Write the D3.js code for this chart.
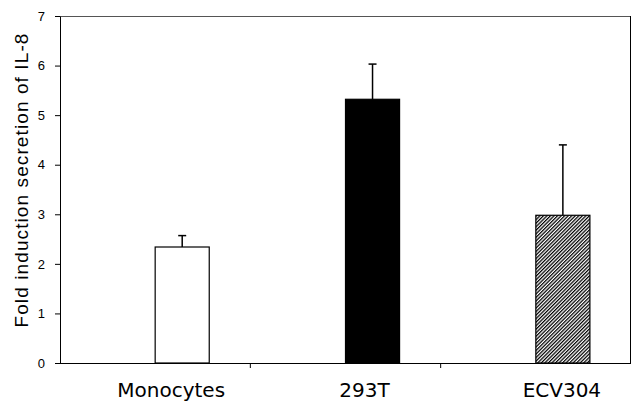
<!DOCTYPE html>
<html>
<head>
<meta charset="utf-8">
<script src="https://cdn.jsdelivr.net/npm/d3@7"></script>
<style>
  body { margin: 0; background: #fff; }
  svg { display: block; }
</style>
</head>
<body>
<svg id="chart" width="632" height="404"></svg>
<script>
// data
const categories = ["Monocytes", "293T", "ECV304"];
const values = [2.34, 5.32, 2.98];
const errors = [0.23, 0.71, 1.42];
const yTicks = [0, 1, 2, 3, 4, 5, 6, 7];
const yTitle = "Fold induction secretion of IL-8";

const margin = { top: 16, right: 1, bottom: 41, left: 60 };
const width = 632 - margin.left - margin.right;
const height = 404 - margin.top - margin.bottom;

const svg = d3.select("#chart");

// hatch fill for the third bar
const defs = svg.append("defs");
defs.append("pattern")
  .attr("id", "hatch")
  .attr("patternUnits", "userSpaceOnUse")
  .attr("width", 2.5)
  .attr("height", 2.5)
  .attr("patternTransform", "rotate(45)")
  .call(p => {
    p.append("rect").attr("width", 2.5).attr("height", 2.5).attr("fill", "#fff");
    p.append("rect").attr("width", 1.25).attr("height", 2.5).attr("fill", "#000");
  });

const fills = ["#fff", "#000", "url(#hatch)"];

const x = d3.scaleBand()
  .domain(categories)
  .range([0, width])
  .padding(0);

// Excel-like cluster: empty first slot, bar in second slot
const x1 = d3.scaleBand()
  .domain(["blank", "value"])
  .range([0, x.step()])
  .paddingInner(0)
  .paddingOuter(0.76);

const y = d3.scaleLinear()
  .domain([0, 7])
  .range([height, 0]);

const g = svg.append("g")
  .attr("transform", `translate(${margin.left}, ${margin.top})`);

// frame top and right
g.append("line")
  .attr("x1", 0).attr("x2", width)
  .attr("y1", 0.5).attr("y2", 0.5)
  .attr("stroke", "#555");
g.append("line")
  .attr("x1", width - 0.5).attr("x2", width - 0.5)
  .attr("y1", 0).attr("y2", height)
  .attr("stroke", "#000");

// bars
const data = categories.map((c, i) => ({ cat: c, value: values[i], err: errors[i], fill: fills[i] }));

g.selectAll(".bar")
  .data(data)
  .enter()
  .append("rect")
  .attr("class", "bar")
  .attr("x", d => x(d.cat) + x1("value"))
  .attr("y", d => y(d.value))
  .attr("width", x1.bandwidth())
  .attr("height", d => height - y(d.value))
  .attr("fill", d => d.fill)
  .attr("stroke", "#000")
  .attr("stroke-width", 1.2);

// upper error bars
const cx = d => x(d.cat) + x1("value") + x1.bandwidth() / 2;
g.selectAll(".err")
  .data(data)
  .enter()
  .append("line")
  .attr("class", "err")
  .attr("x1", cx).attr("x2", cx)
  .attr("y1", d => y(d.value))
  .attr("y2", d => y(d.value + d.err))
  .attr("stroke", "#000")
  .attr("stroke-width", 1.5);
g.selectAll(".cap")
  .data(data)
  .enter()
  .append("line")
  .attr("class", "cap")
  .attr("x1", d => cx(d) - 4).attr("x2", d => cx(d) + 4)
  .attr("y1", d => y(d.value + d.err))
  .attr("y2", d => y(d.value + d.err))
  .attr("stroke", "#000")
  .attr("stroke-width", 1.5);

// y axis
const yAxis = d3.axisLeft(y)
  .tickValues(yTicks)
  .tickFormat(d3.format("d"))
  .tickSize(5)
  .tickPadding(10)
  .tickSizeOuter(0);
g.append("g")
  .attr("class", "y axis")
  .call(yAxis)
  .call(a => a.select(".domain").attr("stroke", "#000"))
  .call(a => a.selectAll("text")
    .attr("font-family", "'Liberation Sans', Arial, sans-serif")
    .attr("font-size", "13px")
    .attr("fill", "#000"));

// x axis: ticks between categories
const boundaries = categories.slice(1).map(c => x(c));
g.append("line")
  .attr("x1", 0).attr("x2", width)
  .attr("y1", height + 0.5).attr("y2", height + 0.5)
  .attr("stroke", "#000")
  .attr("stroke-width", 1.2);
g.selectAll(".xtick")
  .data(boundaries)
  .enter()
  .append("line")
  .attr("class", "xtick")
  .attr("x1", d => d).attr("x2", d => d)
  .attr("y1", height).attr("y2", height + 5)
  .attr("stroke", "#000");

const labelShift = [-11, -8, -1];
g.selectAll(".xlabel")
  .data(data)
  .enter()
  .append("text")
  .attr("class", "xlabel")
  .attr("x", (d, i) => cx(d) + labelShift[i])
  .attr("y", height + 34)
  .attr("text-anchor", "middle")
  .attr("font-family", "'DejaVu Sans', Verdana, sans-serif")
  .attr("font-size", "20px")
  .attr("fill", "#000")
  .text(d => d.cat);

// y title
svg.append("text")
  .attr("transform", `translate(28, ${margin.top + 164}) rotate(-90)`)
  .attr("text-anchor", "middle")
  .attr("font-family", "'Liberation Sans', Arial, sans-serif")
  .attr("font-size", "19px")
  .attr("letter-spacing", "1.1px")
  .attr("fill", "#000")
  .text(yTitle);
</script>
</body>
</html>
